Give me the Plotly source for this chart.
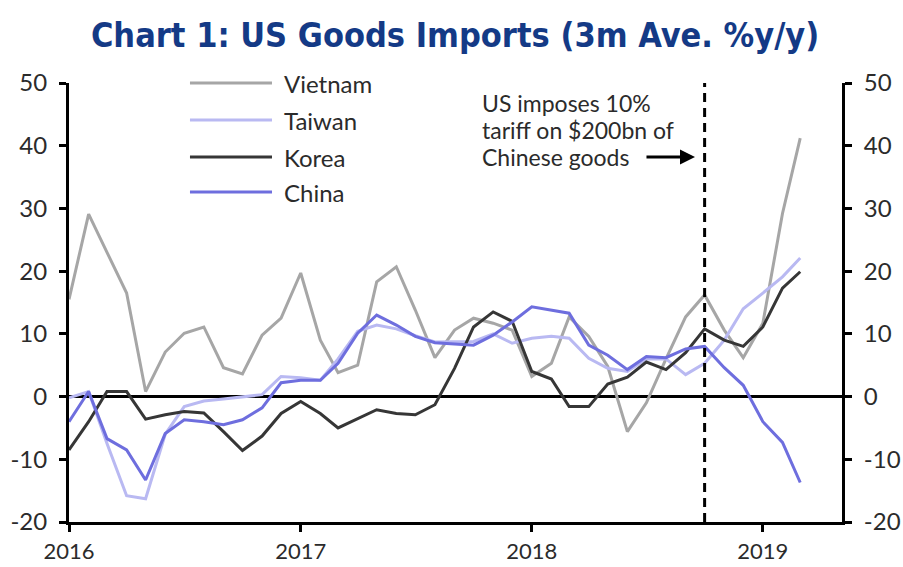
import pandas as pd
import plotly.graph_objects as go

# Monthly observations, Jan 2016 - Mar 2019 (3m average, % y/y)
months = pd.date_range("2016-01-01", "2019-03-01", freq="MS")

vietnam = [15.5, 29.1, 23.0, 16.5, 0.8, 7.1, 10.1, 11.1, 4.6, 3.6, 9.8, 12.5,
           19.7, 9.0, 3.8, 5.0, 18.3, 20.7, 13.8, 6.2, 10.6, 12.5, 11.7, 10.6,
           3.2, 5.3, 12.7, 9.6, 4.8, -5.6, -1.0, 6.0, 12.7, 16.2, 10.6, 6.2,
           11.7, 29.2, 41.2]
taiwan = [-0.2, 0.8, -7.5, -15.8, -16.3, -6.0, -1.6, -0.7, -0.4, 0.0, 0.3, 3.2,
          3.0, 2.6, 6.0, 10.4, 11.4, 10.8, 9.7, 8.7, 8.8, 8.8, 10.0, 8.5,
          9.3, 9.6, 9.3, 6.1, 4.5, 4.0, 6.0, 6.0, 3.5, 5.3, 9.0, 14.0,
          16.5, 19.1, 22.1]
korea = [-8.5, -4.0, 0.8, 0.8, -3.6, -2.9, -2.4, -2.6, -5.6, -8.6, -6.3, -2.7,
         -0.8, -2.7, -5.0, -3.5, -2.1, -2.7, -2.9, -1.3, 4.5, 11.1, 13.5, 12.0,
         4.0, 2.8, -1.6, -1.6, 2.0, 3.1, 5.5, 4.3, 7.0, 10.8, 9.0, 8.0,
         11.1, 17.3, 19.9]
china = [-4.0, 0.8, -6.7, -8.5, -13.3, -5.9, -3.7, -4.0, -4.5, -3.7, -1.8, 2.2,
         2.6, 2.6, 5.3, 10.1, 13.0, 11.4, 9.6, 8.6, 8.4, 8.2, 9.8, 11.9,
         14.3, 13.8, 13.3, 8.2, 6.6, 4.3, 6.4, 6.2, 7.6, 8.0, 4.6, 1.8,
         -4.0, -7.3, -13.7]

series_names = ["Vietnam", "Taiwan", "Korea", "China"]
series_values = [vietnam, taiwan, korea, china]
series_colors = ["#a6a6a6", "#b9b9f2", "#363636", "#6e6ede"]

y_ticks = [-20, -10, 0, 10, 20, 30, 40, 50]
y_tick_text = ["-20", "-10", "0", "10", "20", "30", "40", "50"]
tariff_date = "2018-10-01"
note_lines = ["US imposes 10%", "tariff on $200bn of", "Chinese goods"]

FONT = "Lato, 'Open Sans', sans-serif"
TXT = "#2b2b2b"

fig = go.Figure()
for name, vals, col in zip(series_names, series_values, series_colors):
    fig.add_trace(go.Scatter(
        x=months, y=vals, name=name, mode="lines",
        line=dict(color=col, width=3),
        yaxis="y2" if name == "China" else "y",
        showlegend=False,
    ))

axis_common = dict(
    range=[-20, 50], tickvals=y_ticks, ticktext=y_tick_text,
    showgrid=False, ticks="outside", ticklen=7, tickwidth=3, tickcolor="black",
    showline=True, linewidth=3, linecolor="black",
    tickfont=dict(family=FONT, size=24, color=TXT),
    ticklabelstandoff=7, automargin=False,
)

fig.update_layout(
    width=903, height=567,
    margin=dict(l=69, r=61, t=83, b=45),
    paper_bgcolor="white", plot_bgcolor="white",
    title=dict(
        text="<b>Chart 1: US Goods Imports (3m Ave. %y/y)</b>",
        x=0.504, xanchor="center", y=0.938, yanchor="middle",
        font=dict(family="'DejaVu Sans Condensed', sans-serif",
                  size=34, color="#143a86"),
    ),
    xaxis=dict(
        type="date", range=["2016-01-01", "2019-05-06"],
        tick0="2016-01-01", dtick="M12", tickformat="%Y",
        showgrid=False, ticks="outside", ticklen=7, tickwidth=3, tickcolor="black",
        showline=True, linewidth=3, linecolor="black",
        tickfont=dict(family=FONT, size=22, color=TXT),
        ticklabelstandoff=1, automargin=False,
        zeroline=False,
    ),
    yaxis=dict(side="left", zeroline=True, zerolinecolor="black", zerolinewidth=3,
               **axis_common),
    yaxis2=dict(side="right", overlaying="y", zeroline=False, **axis_common),
    showlegend=False,
)

# Tariff event marker
fig.add_shape(type="line", xref="x", yref="y", x0=tariff_date, x1=tariff_date,
              y0=-20, y1=50, line=dict(color="black", width=3, dash="9px,6px"))

note_y = [0.955, 0.893, 0.831]
for line_text, ny in zip(note_lines, note_y):
    fig.add_annotation(
        xref="paper", yref="paper", x=0.532, y=ny, xanchor="left", yanchor="middle",
        text=line_text, showarrow=False, align="left",
        font=dict(family=FONT, size=23, color=TXT),
    )
fig.add_annotation(
    xref="paper", yref="paper", x=0.8098, y=0.8314, ax=-50, ay=0,
    text="", showarrow=True, arrowhead=2, arrowsize=1, arrowwidth=3,
    arrowcolor="black",
)

# Legend drawn as line samples with labels
legend_y = [1.0, 0.9157, 0.8314, 0.7517]
for name, col, ly in zip(series_names, series_colors, legend_y):
    fig.add_shape(type="line", xref="paper", yref="paper",
                  x0=0.1565, x1=0.2626, y0=ly, y1=ly,
                  line=dict(color=col, width=3))
    fig.add_annotation(xref="paper", yref="paper", x=0.2756, y=ly,
                       xanchor="left", yanchor="middle", text=name,
                       showarrow=False, font=dict(family=FONT, size=24, color=TXT))

fig.write_html("out.html")
